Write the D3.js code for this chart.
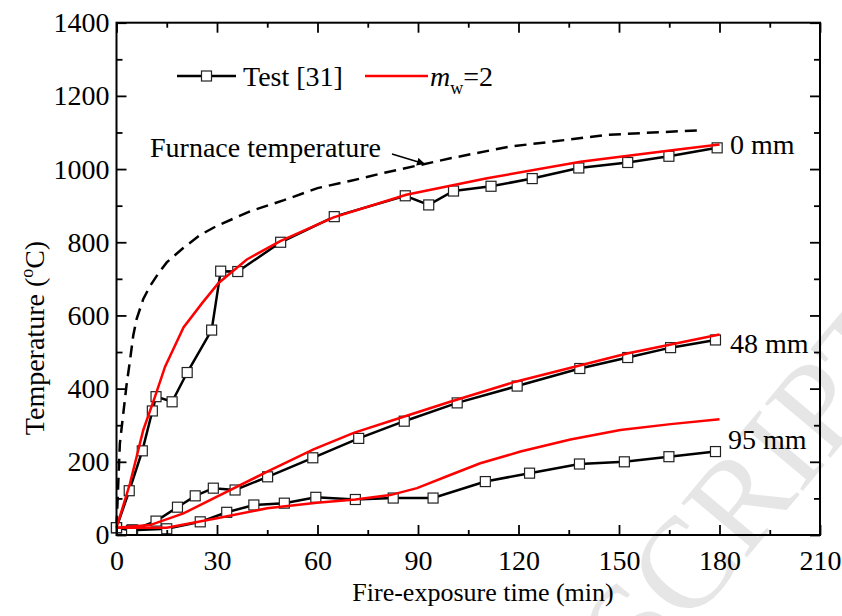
<!DOCTYPE html>
<html>
<head>
<meta charset="utf-8">
<script src="https://cdn.jsdelivr.net/npm/d3@7"></script>
<style>
  body { margin: 0; background: #fff; }
  svg text { font-family: "Liberation Serif", "Times New Roman", serif; fill: #000; }
</style>
</head>
<body>
<svg id="chart" width="842" height="616"></svg>
<script>
// x tick labels and y tick labels
var xTicks = [0, 30, 60, 90, 120, 150, 180, 210];
var yTicks = [0, 200, 400, 600, 800, 1000, 1200, 1400];

// test data [time (min), temperature]
var test0 = [[0, 20], [3.8, 121], [7.7, 230], [10.7, 339], [11.8, 378], [16.6, 364], [21.1, 444],
  [28.4, 560], [31.1, 721], [36.2, 720], [49, 800], [65, 870], [86.2, 927], [93.2, 902],
  [100.6, 940], [111.8, 953], [124.1, 974], [138, 1003], [152.6, 1018], [164.9, 1035], [179.3, 1058]];
var test48 = [[0, 20], [4.8, 14], [11.8, 38], [18.2, 76], [23.5, 107], [28.9, 128], [35.4, 123],
  [45.1, 159], [58.6, 211], [72.3, 264], [85.9, 311], [101.7, 361], [119.6, 407], [138.3, 455],
  [152.6, 485], [165.4, 512], [178.8, 533]];
var test95 = [[0, 20], [4.5, 13], [15, 17], [25, 36], [32.9, 62], [41, 82], [50.1, 87], [59.5, 103],
  [71.3, 97], [82.6, 101], [94.5, 101], [110.1, 146], [123.3, 169], [138.2, 194], [151.6, 200],
  [164.9, 214], [178.8, 228]];

// model (m_w = 2)
var model0 = [[0, 20], [4, 140], [8, 287], [11.5, 378], [14.5, 460], [20, 567], [25.5, 633],
  [30.4, 688], [38.9, 753], [48.9, 803], [64.8, 868], [86.5, 930], [110.6, 975], [138.5, 1020],
  [166.4, 1052], [180, 1067]];
var model48 = [[0, 20], [10, 27], [20, 59], [30, 105], [45, 173], [58.8, 234], [70.8, 279],
  [85.7, 323], [99.6, 364], [119.1, 419], [152.4, 496], [180, 548]];
var model95 = [[0, 20], [15, 20], [30, 46], [45, 73], [59.8, 88], [71.3, 97], [81.7, 109],
  [89.7, 128], [99.6, 164], [108.6, 196], [120.6, 228], [135.5, 261], [150.4, 287],
  [165.4, 303], [180, 316]];

// furnace temperature
var furnace = [[0, 20], [1, 250], [2, 330], [3, 410], [4, 475], [5, 545], [6, 590], [8, 645],
  [10, 680], [12.5, 715], [15, 745], [20, 785], [25, 820], [30, 845], [35, 865], [40, 885],
  [50, 915], [60, 948], [70, 968], [80, 990], [90, 1010], [100, 1030], [117, 1061], [130, 1075],
  [146, 1093], [160, 1100], [175, 1106]];

var svg = d3.select("#chart");
var mLeft = 116.5, mRight = 820, mTop = 22.7, mBottom = 535;
var fs = "28px";
var ms = 10; // marker size

var x = d3.scaleLinear().domain([0, 210]).range([mLeft, mRight]);
var y = d3.scaleLinear().domain([0, 1400]).range([mBottom, mTop]);

// watermark
svg.append("text")
    .attr("transform", "translate(925,345) rotate(-50)")
    .attr("text-anchor", "end")
    .style("font-size", "130px")
    .style("fill", "#e6e6e6")
    .text("ACCEPTED MANUSCRIPT");

var line = d3.line()
    .x(function(d) { return x(d[0]); })
    .y(function(d) { return y(d[1]); });

// furnace curve
svg.append("path")
    .datum(furnace)
    .attr("d", line)
    .attr("fill", "none")
    .attr("stroke", "#000")
    .attr("stroke-width", 2.5)
    .attr("stroke-dasharray", "12,7");

// test curves with square markers
[test0, test48, test95].forEach(function(s) {
  svg.append("path")
      .datum(s)
      .attr("d", line)
      .attr("fill", "none")
      .attr("stroke", "#000")
      .attr("stroke-width", 2.5);
  svg.selectAll(null)
      .data(s)
      .enter().append("rect")
        .attr("x", function(d) { return x(d[0]) - ms / 2; })
        .attr("y", function(d) { return y(d[1]) - ms / 2; })
        .attr("width", ms)
        .attr("height", ms)
        .attr("fill", "#fff")
        .attr("stroke", "#222")
        .attr("stroke-width", 1.2);
});

// model curves
[model0, model48, model95].forEach(function(s) {
  svg.append("path")
      .datum(s)
      .attr("d", line)
      .attr("fill", "none")
      .attr("stroke", "#ff0000")
      .attr("stroke-width", 2.5);
});

// axes, ticks pointing inward on all four sides
var minorX = d3.range(15, 210, 30);
var minorY = d3.range(100, 1400, 200);

function styleAxis(g) {
  g.select(".domain").remove();
  g.selectAll(".tick line").attr("stroke", "#000").attr("stroke-width", 1.8);
  g.selectAll("text").style("font-size", fs).style("font-family", "Liberation Serif");
}

svg.append("g")
    .attr("transform", "translate(0," + mBottom + ")")
    .call(d3.axisBottom(x).tickValues(xTicks).tickFormat(d3.format("d"))
      .tickSizeInner(-10).tickSizeOuter(0).tickPadding(15))
    .call(styleAxis);
svg.append("g")
    .attr("transform", "translate(0," + mBottom + ")")
    .call(d3.axisBottom(x).tickValues(minorX).tickSizeInner(-5).tickSizeOuter(0).tickFormat(""))
    .call(styleAxis);
svg.append("g")
    .attr("transform", "translate(0," + mTop + ")")
    .call(d3.axisTop(x).tickValues(xTicks).tickSizeInner(-10).tickSizeOuter(0).tickFormat(""))
    .call(styleAxis);
svg.append("g")
    .attr("transform", "translate(0," + mTop + ")")
    .call(d3.axisTop(x).tickValues(minorX).tickSizeInner(-5).tickSizeOuter(0).tickFormat(""))
    .call(styleAxis);

svg.append("g")
    .attr("transform", "translate(" + mLeft + ",0)")
    .call(d3.axisLeft(y).tickValues(yTicks).tickFormat(d3.format("d"))
      .tickSizeInner(-10).tickSizeOuter(0).tickPadding(7))
    .call(styleAxis);
svg.append("g")
    .attr("transform", "translate(" + mLeft + ",0)")
    .call(d3.axisLeft(y).tickValues(minorY).tickSizeInner(-6).tickSizeOuter(0).tickFormat(""))
    .call(styleAxis);
svg.append("g")
    .attr("transform", "translate(" + mRight + ",0)")
    .call(d3.axisRight(y).tickValues(yTicks).tickSizeInner(-10).tickSizeOuter(0).tickFormat(""))
    .call(styleAxis);
svg.append("g")
    .attr("transform", "translate(" + mRight + ",0)")
    .call(d3.axisRight(y).tickValues(minorY).tickSizeInner(-6).tickSizeOuter(0).tickFormat(""))
    .call(styleAxis);

// frame
svg.append("rect")
    .attr("x", mLeft).attr("y", mTop)
    .attr("width", mRight - mLeft).attr("height", mBottom - mTop)
    .attr("fill", "none").attr("stroke", "#000").attr("stroke-width", 2);

// axis titles
svg.append("text")
    .attr("x", 483)
    .attr("y", 601)
    .attr("text-anchor", "middle")
    .style("font-size", "26px")
    .text("Fire-exposure time (min)");

var yt = svg.append("text")
    .attr("transform", "translate(44,338) rotate(-90)")
    .attr("text-anchor", "middle")
    .style("font-size", fs);
yt.append("tspan").text("Temperature (");
yt.append("tspan").attr("dy", -11).style("font-size", "18px").text("o");
yt.append("tspan").attr("dy", 11).text("C)");

// curve labels
svg.append("text").attr("x", 730).attr("y", 154).style("font-size", fs).text("0 mm");
svg.append("text").attr("x", 730).attr("y", 353).style("font-size", fs).text("48 mm");
svg.append("text").attr("x", 728).attr("y", 449).style("font-size", fs).text("95 mm");

// furnace annotation with arrow
svg.append("defs").append("marker")
    .attr("id", "arrow")
    .attr("viewBox", "0 0 10 10")
    .attr("refX", 10).attr("refY", 5)
    .attr("markerWidth", 10).attr("markerHeight", 8)
    .attr("markerUnits", "userSpaceOnUse")
    .attr("orient", "auto")
  .append("path")
    .attr("d", "M0,0 L10,5 L0,10 Z")
    .attr("fill", "#000");
svg.append("text").attr("x", 150).attr("y", 157).style("font-size", fs).text("Furnace temperature");
svg.append("line")
    .attr("x1", 392).attr("y1", 154).attr("x2", 425).attr("y2", 164)
    .attr("stroke", "#000").attr("stroke-width", 1.5)
    .attr("marker-end", "url(#arrow)");

// legend
var leg = svg.append("g");
leg.append("line").attr("x1", 177).attr("x2", 236).attr("y1", 76).attr("y2", 76)
    .attr("stroke", "#000").attr("stroke-width", 2.5);
leg.append("rect").attr("x", 206.5 - ms / 2).attr("y", 76 - ms / 2).attr("width", ms).attr("height", ms)
    .attr("fill", "#fff").attr("stroke", "#222").attr("stroke-width", 1.2);
leg.append("text").attr("x", 243).attr("y", 86).style("font-size", fs).text("Test [31]");
leg.append("line").attr("x1", 365).attr("x2", 428).attr("y1", 76).attr("y2", 76)
    .attr("stroke", "#ff0000").attr("stroke-width", 2.5);
var lt = leg.append("text").attr("x", 430).attr("y", 86).style("font-size", fs);
lt.append("tspan").style("font-style", "italic").text("m");
lt.append("tspan").attr("dy", 8).style("font-size", "18px").text("w");
lt.append("tspan").attr("dy", -8).text("=2");
</script>
</body>
</html>
